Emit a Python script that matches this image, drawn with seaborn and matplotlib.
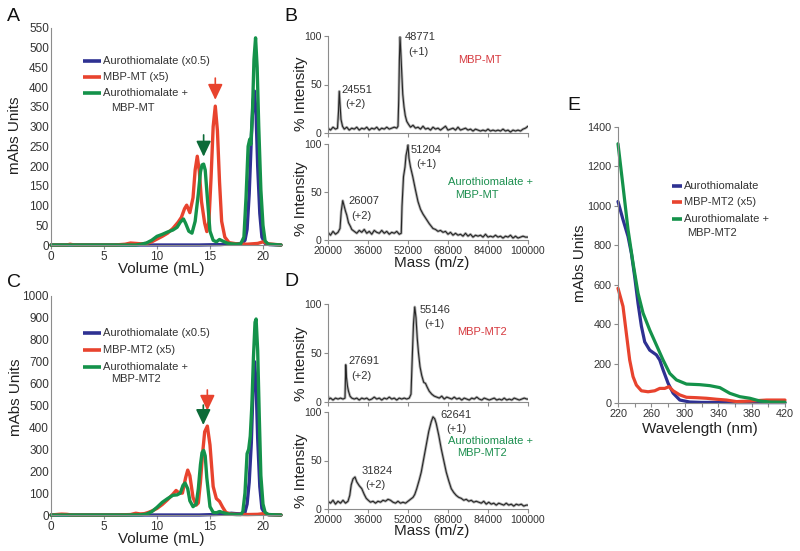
import matplotlib
matplotlib.use("Agg")
import matplotlib.pyplot as plt
import seaborn as sns

BLUE = "#2e3192"
RED = "#e8432e"
GREEN = "#14924a"
DKGREEN = "#0c6b38"
TXT_RED = "#d6393f"
TXT_GREEN = "#1c8f4f"

# ---------------- panel A : SEC, MBP-MT ----------------
a_blue_vol = [0, 2, 4, 6, 8, 10, 12, 14, 16, 17, 17.5, 18, 18.3, 18.5, 18.7, 18.9, 19.05, 19.2, 19.35, 19.5,
              19.7, 19.9, 20.2, 20.6, 21.7]
a_blue_val = [0, 0, 0, 0, 0, 0, 0, 0, 1, 3, 3, 4, 12, 40, 130, 270, 360, 390, 330, 200,
              80, 20, 4, 1, 0]
a_red_vol = [0, 1.5, 1.8, 2.2, 6, 7, 7.5, 8, 8.5, 9, 9.5, 10, 10.5, 11, 11.5, 12, 12.3, 12.6, 12.8, 13.1,
             13.4, 13.6, 13.8, 14.0, 14.2, 14.5, 14.7, 14.9, 15.1, 15.3, 15.5, 15.7, 15.9, 16.1, 16.4, 16.8,
             17.5, 18.5, 19.5, 20, 20.5, 21.7]
a_red_val = [0, 0, 2, 0, 0, 2, 5, 4, 3, 4, 8, 15, 22, 30, 42, 58, 70, 92, 101, 82,
             120, 190, 225, 185, 110, 55, 34, 60, 170, 300, 352, 290, 160, 60, 20, 6,
             3, 2, 4, 8, 3, 0]
a_green_vol = [0, 6, 8, 8.5, 9, 9.5, 10, 10.5, 11, 11.5, 11.9, 12.2, 12.5, 12.7, 13.0, 13.3, 13.6, 13.9,
               14.1, 14.25, 14.4, 14.55, 14.75, 15.0, 15.3, 15.6, 15.9, 16.2, 16.6, 17, 17.5, 17.9, 18.2,
               18.4, 18.6, 18.75, 18.85, 19.0, 19.15, 19.3, 19.45, 19.6, 19.8, 20.0, 20.2, 20.5, 21.7]
a_green_val = [0, 0, 0, 2, 5, 12, 22, 27, 33, 38, 45, 58, 66, 55, 35, 30, 60, 130,
               185, 203, 205, 190, 120, 35, 12, 8, 14, 10, 5, 3, 2, 3, 20,
               120, 250, 268, 255, 330, 470, 525, 450, 300, 140, 50, 10, 2, 0]
a_labels = ["Aurothiomalate (x0.5)", "MBP-MT (x5)", "Aurothiomalate +", "MBP-MT"]

# ---------------- panel C : SEC, MBP-MT2 ----------------
c_blue_vol = [0, 4, 8, 10, 12, 14, 16, 16.5, 17, 17.5, 18, 18.3, 18.5, 18.7, 18.9, 19.05, 19.2, 19.35, 19.5,
              19.7, 19.9, 20.2, 20.6, 21.7]
c_blue_val = [0, 0, 0, 0, 0, 0, 3, 5, 8, 6, 5, 12, 50, 150, 330, 560, 700, 600, 350,
              130, 30, 5, 1, 0]
c_red_vol = [0, 0.7, 1.0, 1.5, 2, 6, 7.5, 8, 8.4, 8.8, 9.2, 9.6, 10, 10.5, 11, 11.5, 11.8, 12.1, 12.4, 12.7,
             12.9, 13.1, 13.4, 13.7, 13.9, 14.1, 14.3, 14.5, 14.75, 15.0, 15.3, 15.6, 15.9, 16.2, 16.5, 16.9,
             17.5, 18.5, 19.5, 20, 20.5, 21.7]
c_red_val = [0, 3, 4, 3, 0, 0, 2, 8, 5, 6, 12, 20, 30, 48, 70, 95, 112, 100, 100, 170,
             205, 180, 80, 45, 55, 150, 280, 380, 406, 320, 130, 75, 62, 35, 12, 5,
             3, 2, 3, 6, 2, 0]
c_green_vol = [0, 7, 8.5, 9, 9.5, 10, 10.5, 11, 11.5, 11.9, 12.2, 12.45, 12.65, 12.9, 13.1, 13.4, 13.7, 13.9,
               14.1, 14.25, 14.4, 14.55, 14.7, 15.0, 15.3, 15.6, 15.9, 16.3, 16.8, 17.5, 17.9, 18.1, 18.3,
               18.5, 18.65, 18.8, 18.95, 19.1, 19.25, 19.35, 19.5, 19.65, 19.8, 20.0, 20.2, 20.5, 21.7]
c_green_val = [0, 0, 1, 4, 15, 35, 58, 75, 90, 92, 100, 135, 146, 120, 65, 38, 50, 120,
               230, 285, 295, 270, 170, 38, 12, 10, 16, 10, 4, 2, 2, 15, 100,
               280, 300, 360, 500, 720, 880, 895, 750, 450, 180, 50, 12, 2, 0]
c_labels = ["Aurothiomalate (x0.5)", "MBP-MT2 (x5)", "Aurothiomalate +", "MBP-MT2"]

# ---------------- panel B : MALDI spectra ----------------
b1_mass = [20000, 21000, 22000, 23000, 23800, 24200, 24500, 24800, 25200, 25800, 26500, 27500, 28500, 29500,
           30500, 31500, 32500, 33500, 34500, 35500, 36500, 37500, 38500, 39500, 40500, 41500, 42500, 43500,
           44500, 45500, 46500, 47500, 48000, 48300, 48550, 48800, 49100, 49500, 49900, 50400, 50900, 51500,
           52200, 53000, 54000, 55000, 56000, 57000, 58000, 59000, 60000, 61000, 62000, 63000, 64000, 65000,
           66000, 67000, 68000, 69000, 70000, 71000, 72000, 73000, 74000, 75000, 76000, 77000, 78000, 79000,
           80000, 81000, 82000, 83000, 84000, 85000, 86000, 87000, 88000, 89000, 90000, 91000, 92000, 93000,
           94000, 95000, 96000, 97000, 98000, 99000, 100000]
b1_int = [5, 3, 6, 4, 5, 22, 43, 30, 14, 7, 4, 6, 3, 5,
          4, 6, 3, 5, 4, 6, 3, 5, 4, 6, 3, 5, 4, 6,
          4, 5, 6, 5, 7, 35, 75, 99, 85, 62, 40, 27, 18, 12,
          9, 6, 8, 5, 6, 4, 7, 4, 5, 3, 6, 4, 5, 3,
          5, 7, 3, 4, 5, 3, 6, 3, 4, 5, 3, 4, 2, 4,
          3, 2, 3, 2, 4, 2, 3, 2, 3, 2, 4, 2, 3, 1,
          3, 2, 3, 2, 4, 5, 7]
b2_mass = [20000, 21000, 22000, 23000, 24000, 24800, 25300, 25900, 26400, 27000, 27500, 28200, 29000, 29500,
           30500, 31500, 32500, 33500, 34500, 35500, 36500, 37500, 38500, 39500, 40500, 41500, 42500, 43500,
           44500, 45500, 46500, 47500, 48500, 49300, 49600, 50200, 50800, 51200, 51600, 52000, 52400, 53000,
           53900, 55000, 56000, 57000, 58000, 59500, 60500, 62000, 63000, 64000, 65000, 66000, 67000, 68000,
           69000, 70000, 71000, 72000, 73000, 74000, 75000, 76000, 77000, 78000, 79000, 80000, 81000, 82000,
           83000, 84000, 85000, 86000, 87000, 88000, 89000, 90000, 91000, 92000, 93000, 94000, 95000, 96000,
           97000, 98000, 99000, 100000]
b2_int = [8, 5, 9, 6, 8, 12, 30, 41, 36, 30, 26, 18, 14, 11,
          9, 7, 10, 8, 11, 7, 9, 6, 10, 8, 7, 10, 7, 9,
          6, 8, 7, 9, 6, 7, 35, 66, 76, 88, 93, 99, 85, 76,
          66, 52, 40, 32, 27, 21, 17, 12, 11, 9, 10, 8, 9, 6,
          8, 5, 7, 5, 6, 4, 7, 4, 6, 3, 5, 4, 5, 3,
          6, 3, 4, 3, 5, 3, 4, 2, 4, 3, 5, 2, 4, 2,
          3, 4, 3, 3]

# ---------------- panel D : MALDI spectra ----------------
d1_mass = [20000, 20500, 21000, 22000, 23000, 24000, 25000, 26000, 26800, 27100, 27400, 27800, 28200, 28800,
           29500, 30500, 31500, 32500, 33500, 34500, 35500, 36500, 37500, 38500, 39500, 40500, 41500, 42500,
           43500, 44500, 45500, 46500, 47500, 48500, 49500, 50500, 51500, 52500, 53200, 53700, 54200, 54700,
           55200, 55700, 56200, 56800, 57500, 58300, 59000, 59700, 60500, 61500, 62500, 63500, 64500, 65500,
           66500, 67500, 68500, 69500, 70500, 71500, 72500, 73500, 74500, 75500, 76500, 77500, 78500, 79500,
           80500, 81500, 82500, 83500, 84500, 85500, 86500, 87500, 88500, 89500, 90500, 91500, 92500, 93500,
           94500, 95500, 96500, 97500, 98500, 99500, 100000]
d1_int = [6, 3, 4, 2, 4, 3, 4, 3, 4, 38, 25, 16, 11, 6,
          4, 3, 4, 2, 4, 3, 4, 2, 3, 5, 3, 4, 2, 4,
          3, 5, 3, 4, 2, 4, 3, 4, 3, 4, 8, 45, 80, 97,
          86, 65, 50, 36, 27, 20, 19, 15, 11, 8, 6, 5, 4, 6,
          3, 5, 4, 3, 5, 3, 4, 2, 4, 3, 2, 4, 3, 5,
          3, 2, 4, 3, 2, 3, 4, 2, 3, 2, 4, 2, 3, 2,
          4, 3, 2, 3, 4, 3, 3]
d2_mass = [20000, 21000, 22000, 23000, 24000, 25000, 26000, 27000, 28000, 28700, 29300, 30000, 30800, 31500,
           32500, 33500, 34500, 35300, 36100, 37000, 38000, 39000, 40000, 41000, 42000, 43000, 44000, 45000,
           46000, 47000, 48000, 49000, 50000, 51000, 52000, 53000, 54000, 54700, 55500, 56500, 57300, 58300,
           59300, 60300, 61300, 62000, 62700, 63300, 64300, 65300, 66300, 67300, 68300, 69300, 70300, 71300,
           72300, 73300, 74300, 75300, 76300, 77300, 78300, 79300, 80300, 81300, 82300, 83300, 84300, 85300,
           86300, 87300, 88300, 89300, 90300, 91300, 92300, 93300, 94300, 95300, 96300, 97300, 98300, 99300,
           100000]
d2_int = [8, 6, 9, 5, 8, 6, 9, 6, 8, 14, 25, 31, 33, 28,
          24, 21, 15, 11, 9, 7, 8, 6, 8, 7, 9, 8, 10, 9,
          7, 6, 8, 6, 7, 6, 8, 10, 12, 15, 21, 30, 38, 52,
          66, 80, 90, 95, 93, 88, 76, 62, 50, 38, 29, 21, 17, 14,
          12, 11, 9, 10, 8, 9, 7, 8, 7, 6, 8, 5, 7, 5,
          6, 4, 6, 5, 4, 6, 4, 5, 3, 5, 4, 5, 3, 4,
          4]

# ---------------- panel E : UV-vis ----------------
e_blue_wl = [220, 226, 232, 236, 240, 244, 248, 252, 258, 266, 270, 274, 280, 286, 294, 306, 320, 340, 360, 380,
             400, 420]
e_blue_val = [1022, 930, 845, 760, 640, 505, 390, 310, 268, 244, 218, 168, 100, 50, 15, 5, 3, 3, 2, 2,
              2, 2]
e_red_wl = [220, 226, 230, 234, 238, 242, 248, 256, 264, 270, 276, 281, 286, 294, 302, 314, 326, 338, 350, 362,
            378, 398, 420]
e_red_val = [582, 490, 353, 218, 134, 91, 62, 57, 62, 74, 74, 83, 62, 41, 29, 27, 24, 19, 15, 7,
             10, 15, 15]
e_green_wl = [220, 226, 232, 238, 244, 250, 258, 266, 274, 282, 290, 302, 318, 330, 342, 354, 366, 378, 390, 402,
              420]
e_green_val = [1315, 1100, 880, 710, 557, 456, 370, 294, 218, 150, 117, 96, 93, 88, 78, 49, 32, 24, 10, 5,
               4]
e_labels = ["Aurothiomalate", "MBP-MT2 (x5)", "Aurothiomalate +", "MBP-MT2"]

mass_ticks = [20000, 36000, 52000, 68000, 84000, 100000]

sns.set_style("ticks")
plt.rcParams['font.family'] = ['Liberation Sans', 'DejaVu Sans']

fig = plt.figure(figsize=(8, 5.51), dpi=100)


def style_axes(ax, size=8.5):
    sns.despine(ax=ax)
    for s in ('left', 'bottom'):
        ax.spines[s].set_color('#8c8c8c')
        ax.spines[s].set_linewidth(0.8)
    ax.tick_params(colors='#8c8c8c', labelcolor='#333333', length=3, width=0.8, labelsize=size, pad=1.5)


def draw_key(ax, x0, x1, xt, rows, colors, labels, indent):
    for y, c, lab in zip(rows[:3], colors, labels[:3]):
        ax.plot([x0, x1], [y, y], color=c, lw=2.6, transform=ax.transAxes, solid_capstyle='butt')
        ax.text(xt, y, lab, transform=ax.transAxes, va='center', ha='left', fontsize=8, color='#333333')
    ax.text(indent, rows[3], labels[3], transform=ax.transAxes, va='center', ha='left', fontsize=8,
            color='#333333')


def arrow(ax, x, y_tail, y_tip, color):
    ax.annotate('', xy=(x, y_tip), xytext=(x, y_tail),
                arrowprops=dict(arrowstyle='-|>,head_length=0.95,head_width=0.45', color=color, lw=1.2,
                                shrinkA=0, shrinkB=0))


def chrom(rect, blue, red, green, ymax, ystep, labels, rows, ylab_xy, xlab_y, arrows):
    ax = fig.add_axes(rect)
    for (v, y), c in zip([blue, red, green], [BLUE, RED, GREEN]):
        sns.lineplot(x=v, y=y, ax=ax, color=c, lw=2.4, estimator=None, sort=False, clip_on=False)
    ax.set_xlim(0, 21.7)
    ax.set_ylim(0, ymax)
    ax.set_xticks([0, 5, 10, 15, 20])
    ax.set_yticks(list(range(0, ymax + 1, ystep)))
    style_axes(ax)
    ax.tick_params(axis='y', length=0)
    ax.set_ylabel("mAbs Units", fontsize=11, color='#222222')
    ax.set_xlabel("Volume (mL)", fontsize=11, color='#222222')
    ax.yaxis.set_label_coords(*ylab_xy)
    ax.xaxis.set_label_coords(0.478, xlab_y)
    draw_key(ax, 0.139, 0.218, 0.226, rows, [BLUE, RED, GREEN], labels, 0.262)
    for x, yt, yp, c in arrows:
        arrow(ax, x, yt, yp, c)
    return ax


chrom([51 / 800, 306 / 551, 230 / 800, 217 / 551],
      (a_blue_vol, a_blue_val), (a_red_vol, a_red_val), (a_green_vol, a_green_val),
      550, 50, a_labels, [0.848, 0.776, 0.700, 0.631], (-0.126, 0.507), -0.078,
      [(15.5, 423, 368, RED), (14.4, 279, 224, DKGREEN)])
chrom([51 / 800, 36 / 551, 230 / 800, 219 / 551],
      (c_blue_vol, c_blue_val), (c_red_vol, c_red_val), (c_green_vol, c_green_val),
      1000, 100, c_labels, [0.832, 0.753, 0.677, 0.620], (-0.122, 0.539), -0.078,
      [(14.75, 571, 476, RED), (14.37, 502, 411, DKGREEN)])


def spectrum(rect, mass, inten, show_x, ylab_y, notes):
    ax = fig.add_axes(rect)
    sns.lineplot(x=mass, y=inten, ax=ax, color='#b4b4b4', lw=2.0, estimator=None, sort=False)
    sns.lineplot(x=mass, y=inten, ax=ax, color='#262626', lw=0.8, estimator=None, sort=False)
    ax.set_xlim(20000, 100000)
    ax.set_ylim(0, 100)
    ax.set_yticks([0, 50, 100])
    ax.set_xticks(mass_ticks)
    style_axes(ax, 7.6)
    ax.set_ylabel("% Intensity", fontsize=11, color='#222222')
    ax.yaxis.set_label_coords(-0.10, ylab_y)
    if show_x:
        ax.set_xlabel("Mass (m/z)", fontsize=11, color='#222222')
    else:
        ax.set_xticklabels([])
        ax.set_xlabel("")
    for x, y, s, c in notes:
        ax.text(x, y, s, fontsize=8, color=c, ha='left', va='center')
    return ax


G = '#333333'
bt = spectrum([328 / 800, 418 / 551, 200 / 800, 97 / 551], b1_mass, b1_int, False, 0.40,
              [(25480, 44, "24551", G), (27000, 30, "(+2)", G), (50800, 99, "48771", G),
               (52100, 84, "(+1)", G), (72120, 75, "MBP-MT", TXT_RED)])
bb = spectrum([328 / 800, 311 / 551, 200 / 800, 96 / 551], b2_mass, b2_int, True, 0.43,
              [(28130, 41, "26007", G), (29470, 25.5, "(+2)", G), (53070, 94, "51204", G),
               (55470, 79, "(+1)", G), (68130, 60, "Aurothiomalate +", TXT_GREEN),
               (70800, 47, "MBP-MT", TXT_GREEN)])
bb.xaxis.set_label_coords(0.52, -0.165)
dt = spectrum([328 / 800, 149 / 551, 200 / 800, 98 / 551], d1_mass, d1_int, False, 0.39,
              [(28130, 42, "27691", G), (29470, 27, "(+2)", G), (56800, 94, "55146", G),
               (58400, 80, "(+1)", G), (71470, 71, "MBP-MT2", TXT_RED)])
db = spectrum([328 / 800, 42 / 551, 200 / 800, 97 / 551], d2_mass, d2_int, True, 0.39,
              [(33470, 39, "31824", G), (34800, 25, "(+2)", G), (65070, 96.6, "62641", G),
               (67200, 82, "(+1)", G), (68130, 70, "Aurothiomalate +", TXT_GREEN),
               (71470, 58, "MBP-MT2", TXT_GREEN)])
db.xaxis.set_label_coords(0.52, -0.152)

# panel E
ae = fig.add_axes([618 / 800, 148 / 551, 167 / 800, 276 / 551])
for w, v, c in [(e_blue_wl, e_blue_val, BLUE), (e_red_wl, e_red_val, RED), (e_green_wl, e_green_val, GREEN)]:
    sns.lineplot(x=w, y=v, ax=ae, color=c, lw=2.3, estimator=None, sort=False, clip_on=False)
ae.set_xlim(220, 420)
ae.set_ylim(0, 1400)
ae.set_xticks(list(range(220, 421, 20)))
ae.set_xticklabels([str(t) if (t - 220) % 40 == 0 else "" for t in range(220, 421, 20)])
ae.set_yticks(list(range(0, 1401, 200)))
style_axes(ae, 7.8)
ae.set_ylabel("mAbs Units", fontsize=11, color='#222222')
ae.set_xlabel("Wavelength (nm)", fontsize=11, color='#222222')
ae.yaxis.set_label_coords(-0.186, 0.507)
ae.xaxis.set_label_coords(0.488, -0.069)
draw_key(ae, 0.322, 0.381, 0.395, [0.787, 0.729, 0.667, 0.617], [BLUE, RED, GREEN], e_labels, 0.413)

# panel letters
for lx, ly, s in [(7, 8, "A"), (284, 8, "B"), (7, 274, "C"), (284, 273, "D"), (567, 97, "E")]:
    fig.text(lx / 800, 1 - ly / 551, s, fontsize=14, va='top', ha='left', color='#111111')

fig.savefig("out.png", dpi=100)
